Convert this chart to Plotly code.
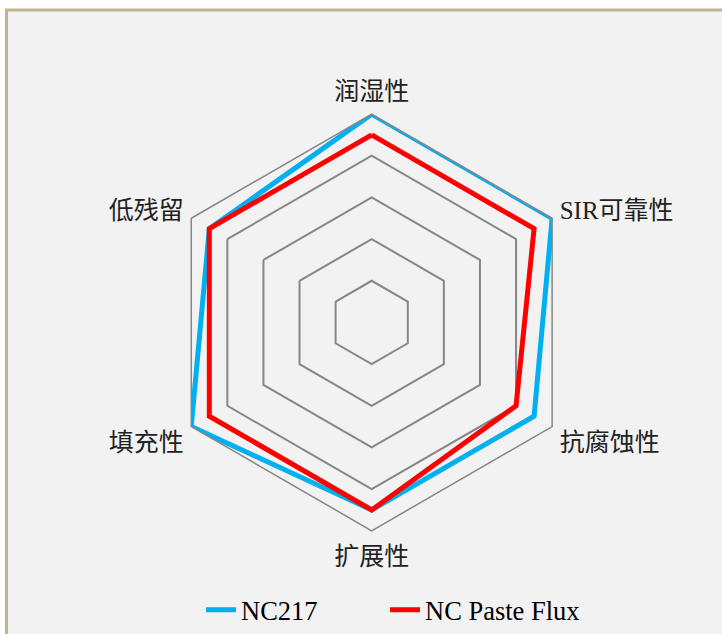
import plotly.graph_objects as go

categories = ["润湿性", "SIR可靠性", "抗腐蚀性", "扩展性", "填充性", "低残留"]
nc217 = [5, 5, 4.5, 4.5, 5, 4.5]
nc_paste = [4.5, 4.5, 4, 4.5, 4.5, 4.5]
series_names = ["NC217", "NC Paste Flux"]
series_colors = ["#00b0f0", "#ff0000"]
legend_ids = ["legend", "legend2"]
legend_x_px = [201, 385]

W, H = 722, 634
cx, cy, R = 371.7, 325, 210

fig = go.Figure()
for name, vals, col, lg in zip(series_names, [nc217, nc_paste], series_colors, legend_ids):
    fig.add_trace(go.Scatterpolar(
        r=vals + vals[:1],
        theta=categories + categories[:1],
        mode="lines",
        name=name,
        legend=lg,
        showlegend=True,
        line=dict(color=col, width=5),
    ))

legend_style = dict(orientation="h", xanchor="left", y=(H - 615) / H,
                    yanchor="middle", bgcolor="rgba(0,0,0,0)",
                    font=dict(family="Liberation Serif, Times New Roman",
                              size=26.5, color="#000000"))

fig.update_layout(
    width=W, height=H,
    showlegend=True,
    margin=dict(l=0, r=0, t=0, b=0),
    paper_bgcolor="white",
    shapes=[dict(type="rect", xref="paper", yref="paper",
                 x0=6.5 / W, x1=1.05, y0=-0.05, y1=1 - 10 / H,
                 line=dict(color="#c0b38e", width=3),
                 fillcolor="#f2f2f2", layer="below")],
    polar=dict(
        domain=dict(x=[(cx - R) / W, (cx + R) / W],
                    y=[(H - cy - R) / H, (H - cy + R) / H]),
        bgcolor="rgba(0,0,0,0)",
        gridshape="linear",
        radialaxis=dict(range=[0, 5], dtick=1, showticklabels=False, ticks="",
                        showline=False, gridcolor="#868686", gridwidth=1.5),
        angularaxis=dict(direction="clockwise", rotation=90, showgrid=False,
                         showline=True, linecolor="#868686", linewidth=1.5,
                         ticks="outside", ticklen=3, tickcolor="rgba(0,0,0,0)",
                         tickfont=dict(family="Liberation Serif, Noto Sans CJK SC",
                                       size=25, color="#222222")),
    ),
    legend=dict(x=legend_x_px[0] / W, **legend_style),
    legend2=dict(x=legend_x_px[1] / W, **legend_style),
)

fig.write_html("out.html", config={"displayModeBar": False},
               post_script="document.body.style.margin='0';")
